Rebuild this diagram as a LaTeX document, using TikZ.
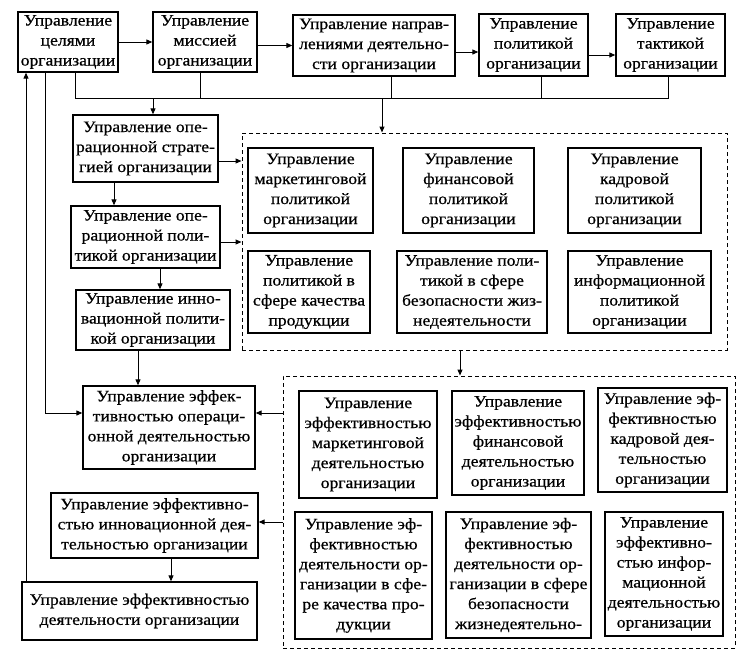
\documentclass[tikz,border=0pt]{standalone}
\usepackage{fontspec}
\setmainfont[FakeStretch=1.1,FakeBold=0.6]{Liberation Serif}
\usetikzlibrary{arrows.meta}
\tikzset{
  box/.style={draw, line width=1.3pt, align=center, inner sep=0pt, font=\fontsize{16}{20}\selectfont},
  dbox/.style={draw, line width=1pt, dash pattern=on 4pt off 3pt, inner sep=0pt},
  arr/.style={line width=1pt, -{Triangle[length=6pt,width=5pt]}},
  ln/.style={line width=1pt}
}
\begin{document}
\begin{tikzpicture}[x=1pt,y=-1pt]
\useasboundingbox (0,0) rectangle (745,654);
% top row
\node[box, minimum width=100pt, minimum height=60pt] (A) at (68,42) {Управление\\целями\\организации};
\node[box, minimum width=104pt, minimum height=60pt] (B) at (205,42) {Управление\\миссией\\организации};
\node[box, minimum width=162pt, minimum height=61pt] (C) at (374,45.5) {Управление направ-\\лениями деятельно-\\сти организации};
\node[box, minimum width=109pt, minimum height=62pt] (D) at (533.5,45) {Управление\\политикой\\организации};
\node[box, minimum width=109pt, minimum height=62pt] (E) at (670.5,45) {Управление\\тактикой\\организации};
% left column
\node[box, minimum width=145pt, minimum height=67pt] (F) at (145.5,148.5) {Управление опе-\\рационной страте-\\гией организации};
\node[box, minimum width=149pt, minimum height=62pt] (G) at (145.5,237) {Управление опе-\\рационной поли-\\тикой организации};
\node[box, minimum width=154pt, minimum height=60pt] (H) at (153,320) {Управление инно-\\вационной полити-\\кой организации};
% dashed group 1
\node[dbox, minimum width=485pt, minimum height=217pt] (D1) at (484.5,241.5) {};
\node[box, minimum width=125pt, minimum height=85pt] (b1) at (310.5,190.5) {Управление\\маркетинговой\\политикой\\организации};
\node[box, minimum width=131pt, minimum height=85pt] (b2) at (468.5,190.5) {Управление\\финансовой\\политикой\\организации};
\node[box, minimum width=133pt, minimum height=85pt] (b3) at (634.5,190.5) {Управление\\кадровой\\политикой\\организации};
\node[box, minimum width=122pt, minimum height=82pt] (b4) at (309,292) {Управление\\политикой в\\сфере качества\\продукции};
\node[box, minimum width=150pt, minimum height=82pt] (b5) at (472,292) {Управление поли-\\тикой в сфере\\безопасности жиз-\\недеятельности};
\node[box, minimum width=143pt, minimum height=82pt] (b6) at (639.5,292) {Управление\\информационной\\политикой\\организации};
% dashed group 2
\node[dbox, minimum width=452pt, minimum height=272pt] (D2) at (509,512) {};
\node[box, minimum width=138pt, minimum height=107pt] (c1) at (368,444.5) {Управление\\эффективностью\\маркетинговой\\деятельностью\\организации};
\node[box, minimum width=132pt, minimum height=104pt] (c2) at (518,443) {Управление\\эффективностью\\финансовой\\деятельностью\\организации};
\node[box, minimum width=129pt, minimum height=104pt] (c3) at (662.5,440) {Управление эф-\\фективностью\\кадровой дея-\\тельностью\\организации};
\node[box, minimum width=137pt, minimum height=127pt] (c4) at (363.5,575.5) {Управление эф-\\фективностью\\деятельности ор-\\ганизации в сфе-\\ре качества про-\\дукции};
\node[box, minimum width=145pt, minimum height=126pt] (c5) at (518.5,575) {Управление эф-\\фективностью\\деятельности ор-\\ганизации в сфере\\безопасности\\жизнедеятельно-};
\node[box, minimum width=118pt, minimum height=124pt] (c6) at (664,574) {Управление\\эффективно-\\стью инфор-\\мационной\\деятельностью\\организации};
% bottom left
\node[box, minimum width=172pt, minimum height=83pt] (I) at (169,427.5) {Управление эффек-\\тивностью операци-\\онной деятельностью\\организации};
\node[box, minimum width=207pt, minimum height=65pt] (J) at (154.5,525.5) {Управление эффективно-\\стью инновационной дея-\\тельностью организации};
\node[box, minimum width=235pt, minimum height=58pt] (K) at (139.5,611) {Управление эффективностью\\деятельности организации};
% top row arrows
\draw[arr] (A) -- (B);
\draw[arr] (B.east |- C.west) -- (C.west);
\coordinate (cd) at (0,52);
\draw[arr] (C.east |- cd) -- (D.west |- cd);
\coordinate (de) at (0,55);
\draw[arr] (D.east |- de) -- (E.west |- de);
% bus
\coordinate (bA) at (75,98);
\coordinate (bB) at (200,98);
\coordinate (bC) at (391,98);
\coordinate (bD) at (541,98);
\coordinate (bE) at (668,98);
\coordinate (bF) at (153,98);
\coordinate (bX) at (382,98);
\draw[ln] (bA |- A.south) -- (bA) -- (bE) -- (bE |- E.south);
\draw[ln] (bB |- B.south) -- (bB);
\draw[ln] (bC |- C.south) -- (bC);
\draw[ln] (bD |- D.south) -- (bD);
\draw[arr] (bF) -- (bF |- F.north);
\draw[arr] (bX) -- (bX |- D1.north);
% left column arrows
\coordinate (fg) at (114,0);
\draw[arr] (fg |- F.south) -- (fg |- G.north);
\coordinate (gh) at (160,0);
\draw[arr] (gh |- G.south) -- (gh |- H.north);
\coordinate (hi) at (138,0);
\draw[arr] (hi |- H.south) -- (hi |- I.north);
\coordinate (f1) at (0,161);
\draw[arr] (F.east |- f1) -- (D1.west |- f1);
\coordinate (g1) at (0,242);
\draw[arr] (G.east |- g1) -- (D1.west |- g1);
% between groups
\coordinate (dd) at (460,0);
\draw[arr] (dd |- D1.south) -- (dd |- D2.north);
\coordinate (i1) at (0,413);
\draw[arr] (D2.west |- i1) -- (I.east |- i1);
\coordinate (j1) at (0,522);
\draw[arr] (D2.west |- j1) -- (J.east |- j1);
\coordinate (jk) at (171,0);
\draw[arr] (jk |- J.south) -- (jk |- K.north);
% long left lines
\coordinate (L1) at (45,413);
\draw[arr] (L1 |- A.south) -- (L1) -- (L1 -| I.west);
\coordinate (L2) at (26,0);
\draw[arr] (L2 |- K.north) -- (L2 |- A.south);
\end{tikzpicture}
\end{document}
